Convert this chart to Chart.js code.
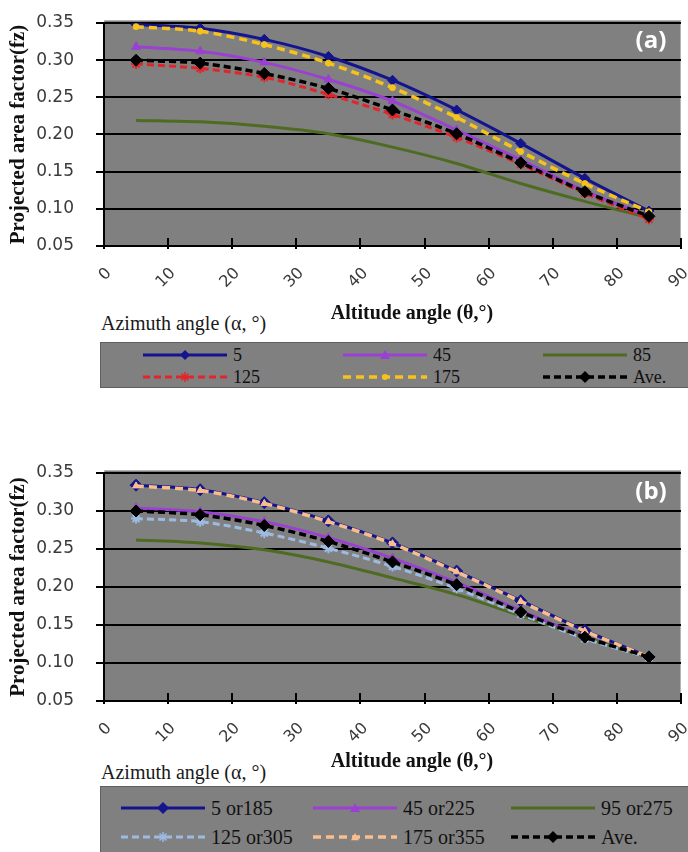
<!DOCTYPE html>
<html>
<head>
<meta charset="utf-8">
<script src="https://cdn.jsdelivr.net/npm/chart.js@4.4.1/dist/chart.umd.min.js"></script>
<style>
  body { margin: 0; background: #fff; width: 688px; height: 852px; overflow: hidden; position: relative; }
  .wrap { position: absolute; left: 0; width: 688px; }
  .az { position: absolute; left: 97px; font-family: "Liberation Serif", "Times New Roman", serif; font-size: 20px; color: #1a1a1a; background: #fff; padding: 0 4px; z-index: 2; }
  .legend { position: absolute; left: 100px; width: 600px; background: #808080; border: 1px solid #5f5f5f; font-family: "Liberation Serif", "Times New Roman", serif; color: #111; }
  .item { position: absolute; white-space: nowrap; }
  .item svg { position: absolute; top: 0; }
</style>
</head>
<body>
<div class="wrap" style="top:0"><canvas id="chartA" width="688" height="332"></canvas></div>
<div class="az" style="top:312px">Azimuth angle (α, °)</div>
<div class="legend" id="legendA" style="top:342px;height:44px;font-size:18px"></div>

<div class="wrap" style="top:450px"><canvas id="chartB" width="688" height="332"></canvas></div>
<div class="az" style="top:761px">Azimuth angle (α, °)</div>
<div class="legend" id="legendB" style="top:786px;height:80px;font-size:20px"></div>

<script>
// x values (altitude angle, degrees) and axis ticks
const altitude = [5, 15, 25, 35, 45, 55, 65, 75, 85];
const xTickValues = [0, 10, 20, 30, 40, 50, 60, 70, 80, 90];
const yTickValues = [0.05, 0.10, 0.15, 0.20, 0.25, 0.30, 0.35];

// chart (a) - azimuth angles
const namesA = ['5', '45', '85', '125', '175', 'Ave.'];
const a_az5   = [0.348, 0.343, 0.328, 0.305, 0.273, 0.233, 0.188, 0.141, 0.097];
const a_az45  = [0.318, 0.312, 0.297, 0.274, 0.245, 0.206, 0.166, 0.124, 0.090];
const a_az85  = [0.219, 0.217, 0.211, 0.201, 0.183, 0.161, 0.134, 0.110, 0.088];
const a_az125 = [0.295, 0.289, 0.277, 0.254, 0.227, 0.196, 0.160, 0.121, 0.086];
const a_az175 = [0.345, 0.339, 0.321, 0.296, 0.263, 0.223, 0.177, 0.134, 0.096];
const a_ave   = [0.300, 0.296, 0.282, 0.262, 0.233, 0.201, 0.162, 0.123, 0.090];

// chart (b)
const namesB = ['5 or185', '45 or225', '95 or275', '125 or305', '175 or355', 'Ave.'];
const b_az5   = [0.334, 0.328, 0.311, 0.287, 0.258, 0.221, 0.182, 0.143, 0.108];
const b_az45  = [0.304, 0.299, 0.286, 0.265, 0.238, 0.206, 0.169, 0.135, 0.108];
const b_az95  = [0.262, 0.258, 0.249, 0.233, 0.212, 0.190, 0.162, 0.134, 0.107];
const b_az125 = [0.290, 0.286, 0.271, 0.251, 0.227, 0.198, 0.164, 0.132, 0.107];
const b_az175 = [0.333, 0.327, 0.310, 0.286, 0.257, 0.220, 0.181, 0.142, 0.108];
const b_ave   = [0.300, 0.295, 0.281, 0.260, 0.233, 0.203, 0.167, 0.134, 0.108];

const xTitle = 'Altitude angle (θ,°)';
const yTitle = 'Projected area factor(fz)';

// line styles
const stylesA = [
  { color: '#14148c', width: 3, point: 'rectRot', radius: 5 },
  { color: '#9a40d2', width: 3, point: 'triangle', radius: 5 },
  { color: '#4e6b22', width: 3 },
  { color: '#e0262a', width: 3, dash: [7, 4], point: 'star', radius: 5 },
  { color: '#f7c21a', width: 3.5, dash: [8, 5], point: 'circle', radius: 3 },
  { color: '#000000', width: 3.5, dash: [7, 4], point: 'rectRot', radius: 6 }
];
const stylesB = [
  { color: '#14148c', width: 3, point: 'rectRot', radius: 6 },
  { color: '#9a40d2', width: 3, point: 'triangle', radius: 5 },
  { color: '#4e6b22', width: 3 },
  { color: '#9dbbe2', width: 3, dash: [7, 4], point: 'star', radius: 5 },
  { color: '#f9bd8e', width: 3.5, dash: [8, 5], point: 'triangle', radius: 4 },
  { color: '#000000', width: 3.5, dash: [7, 4], point: 'rectRot', radius: 6 }
];

const serif = '"Liberation Serif", "Times New Roman", serif';
const sans = '"DejaVu Sans", sans-serif';

// grey plot area, inner x ticks, x title and the (a)/(b) tag
const framePlugin = {
  id: 'frame',
  beforeDraw(chart) {
    const a = chart.chartArea, ctx = chart.ctx;
    ctx.save();
    ctx.fillStyle = '#808080';
    ctx.fillRect(a.left, a.top - 2, a.right - a.left, a.bottom - a.top + 2);
    ctx.strokeStyle = '#b4b4b4';
    ctx.lineWidth = 1;
    ctx.strokeRect(a.left + 0.5, a.top - 2.5, a.right - a.left - 1, a.bottom - a.top + 2);
    ctx.restore();
  },
  afterDraw(chart, args, opts) {
    const a = chart.chartArea, ctx = chart.ctx, xs = chart.scales.x;
    ctx.save();
    ctx.strokeStyle = '#000';
    ctx.lineWidth = 2;
    xTickValues.forEach(v => {
      const x = Math.round(xs.getPixelForValue(v));
      ctx.beginPath();
      ctx.moveTo(x, a.bottom - 8);
      ctx.lineTo(x, a.bottom + 2);
      ctx.stroke();
    });
    // x axis title (sits a little right of the plot centre in the original)
    ctx.fillStyle = '#111';
    ctx.font = 'bold 20px ' + serif;
    ctx.textAlign = 'center';
    ctx.textBaseline = 'middle';
    ctx.fillText(xTitle, 412, opts.titleY);
    // panel tag
    ctx.fillStyle = '#fff';
    ctx.font = 'bold 24px "Open Sans", sans-serif';
    ctx.fillText(opts.tag, a.right - 30, a.top + opts.tagY);
    ctx.restore();
  }
};

function makeChart(id, names, values, styles, geo) {
  const datasets = values.map((vals, i) => {
    const s = styles[i];
    return {
      label: names[i],
      data: vals.map((v, j) => ({ x: altitude[j], y: v })),
      borderColor: s.color,
      backgroundColor: s.color,
      borderWidth: s.width,
      borderDash: s.dash || [],
      pointStyle: s.point || 'circle',
      pointRadius: s.point ? s.radius : 0,
      pointBorderColor: s.color,
      pointBackgroundColor: s.color,
      pointBorderWidth: s.point === 'star' ? 2 : 1,
      tension: 0.3,
      order: values.length - i
    };
  });

  return new Chart(document.getElementById(id), {
    type: 'line',
    data: { datasets: datasets },
    plugins: [framePlugin],
    options: {
      responsive: false,
      animation: false,
      devicePixelRatio: 1,
      layout: { padding: { top: geo.top, right: 4, left: 0, bottom: 0 } },
      plugins: {
        legend: { display: false },
        tooltip: { enabled: false },
        frame: { tag: geo.tag, tagY: geo.tagY, titleY: geo.titleY }
      },
      scales: {
        x: {
          type: 'linear',
          min: 0,
          max: 90,
          afterBuildTicks: s => { s.ticks = xTickValues.map(v => ({ value: v })); },
          afterFit: s => { s.height = geo.xAxisH; s.paddingLeft = 0; s.paddingRight = 0; },
          grid: { drawOnChartArea: false, drawTicks: true, tickLength: 3, color: '#000', lineWidth: 2 },
          border: { color: '#000', width: 2 },
          ticks: {
            minRotation: 45,
            maxRotation: 45,
            padding: 15,
            labelOffset: 5,
            color: '#3a3a3a',
            font: { family: sans, size: 16 }
          }
        },
        y: {
          min: 0.05,
          max: 0.35,
          afterBuildTicks: s => { s.ticks = yTickValues.map(v => ({ value: v })); },
          afterFit: s => { s.width = 104; s.paddingTop = 0; s.paddingBottom = 0; },
          grid: { color: '#000', lineWidth: 2, tickLength: 8 },
          border: { color: '#000', width: 2 },
          ticks: {
            padding: 22,
            color: '#3a3a3a',
            font: { family: sans, size: 17 },
            callback: v => v.toFixed(2)
          },
          title: {
            display: true,
            text: yTitle,
            color: '#111',
            font: { family: serif, size: 21, weight: 'bold' },
            padding: { top: 6, bottom: 0 }
          }
        }
      }
    }
  });
}

// HTML legend in a 3-column grid, built from the chart's datasets
function markerSvg(ds, cx, cy) {
  const r = ds.pointRadius, c = ds.borderColor;
  if (!r) return '';
  if (ds.pointStyle === 'rectRot') {
    return `<polygon points="${cx},${cy - r} ${cx + r},${cy} ${cx},${cy + r} ${cx - r},${cy}" fill="${c}"/>`;
  }
  if (ds.pointStyle === 'triangle') {
    return `<polygon points="${cx},${cy - r} ${cx + r},${cy + r * 0.8} ${cx - r},${cy + r * 0.8}" fill="${c}"/>`;
  }
  if (ds.pointStyle === 'star') {
    const d = r * 0.7;
    return `<path d="M${cx} ${cy - r}V${cy + r}M${cx - r} ${cy}H${cx + r}M${cx - d} ${cy - d}L${cx + d} ${cy + d}M${cx - d} ${cy + d}L${cx + d} ${cy - d}" stroke="${c}" stroke-width="1.5"/>`;
  }
  return `<circle cx="${cx}" cy="${cy}" r="${r}" fill="${c}"/>`;
}

function buildLegend(elId, chart, textX, rowY, sampleW) {
  const el = document.getElementById(elId);
  chart.data.datasets.forEach((ds, i) => {
    const col = i % 3, row = Math.floor(i / 3);
    const h = 22, mid = h / 2;
    const item = document.createElement('div');
    item.className = 'item';
    item.style.left = (textX[col] - sampleW - 6) + 'px';
    item.style.top = (rowY[row] - h / 2 - 1) + 'px';
    item.style.height = h + 'px';
    item.style.lineHeight = h + 'px';
    item.style.paddingLeft = (sampleW + 6) + 'px';
    const dash = ds.borderDash.length ? `stroke-dasharray="${ds.borderDash.join(' ')}"` : '';
    item.innerHTML =
      `<svg width="${sampleW}" height="${h}" style="left:0">` +
      `<line x1="0" y1="${mid}" x2="${sampleW}" y2="${mid}" stroke="${ds.borderColor}" stroke-width="${ds.borderWidth}" ${dash}/>` +
      markerSvg(ds, sampleW / 2, mid) + `</svg>` + ds.label;
    el.appendChild(item);
  });
}

const chartA = makeChart('chartA', namesA, [a_az5, a_az45, a_az85, a_az125, a_az175, a_ave], stylesA,
  { top: 23, xAxisH: 86, titleY: 314, tag: '(a)', tagY: 18 });
const chartB = makeChart('chartB', namesB, [b_az5, b_az45, b_az95, b_az125, b_az175, b_ave], stylesB,
  { top: 23, xAxisH: 81, titleY: 312, tag: '(b)', tagY: 19 });

buildLegend('legendA', chartA, [132, 332, 532], [13, 35], 84);
buildLegend('legendB', chartB, [110, 302, 500], [22, 51], 84);
</script>
</body>
</html>
